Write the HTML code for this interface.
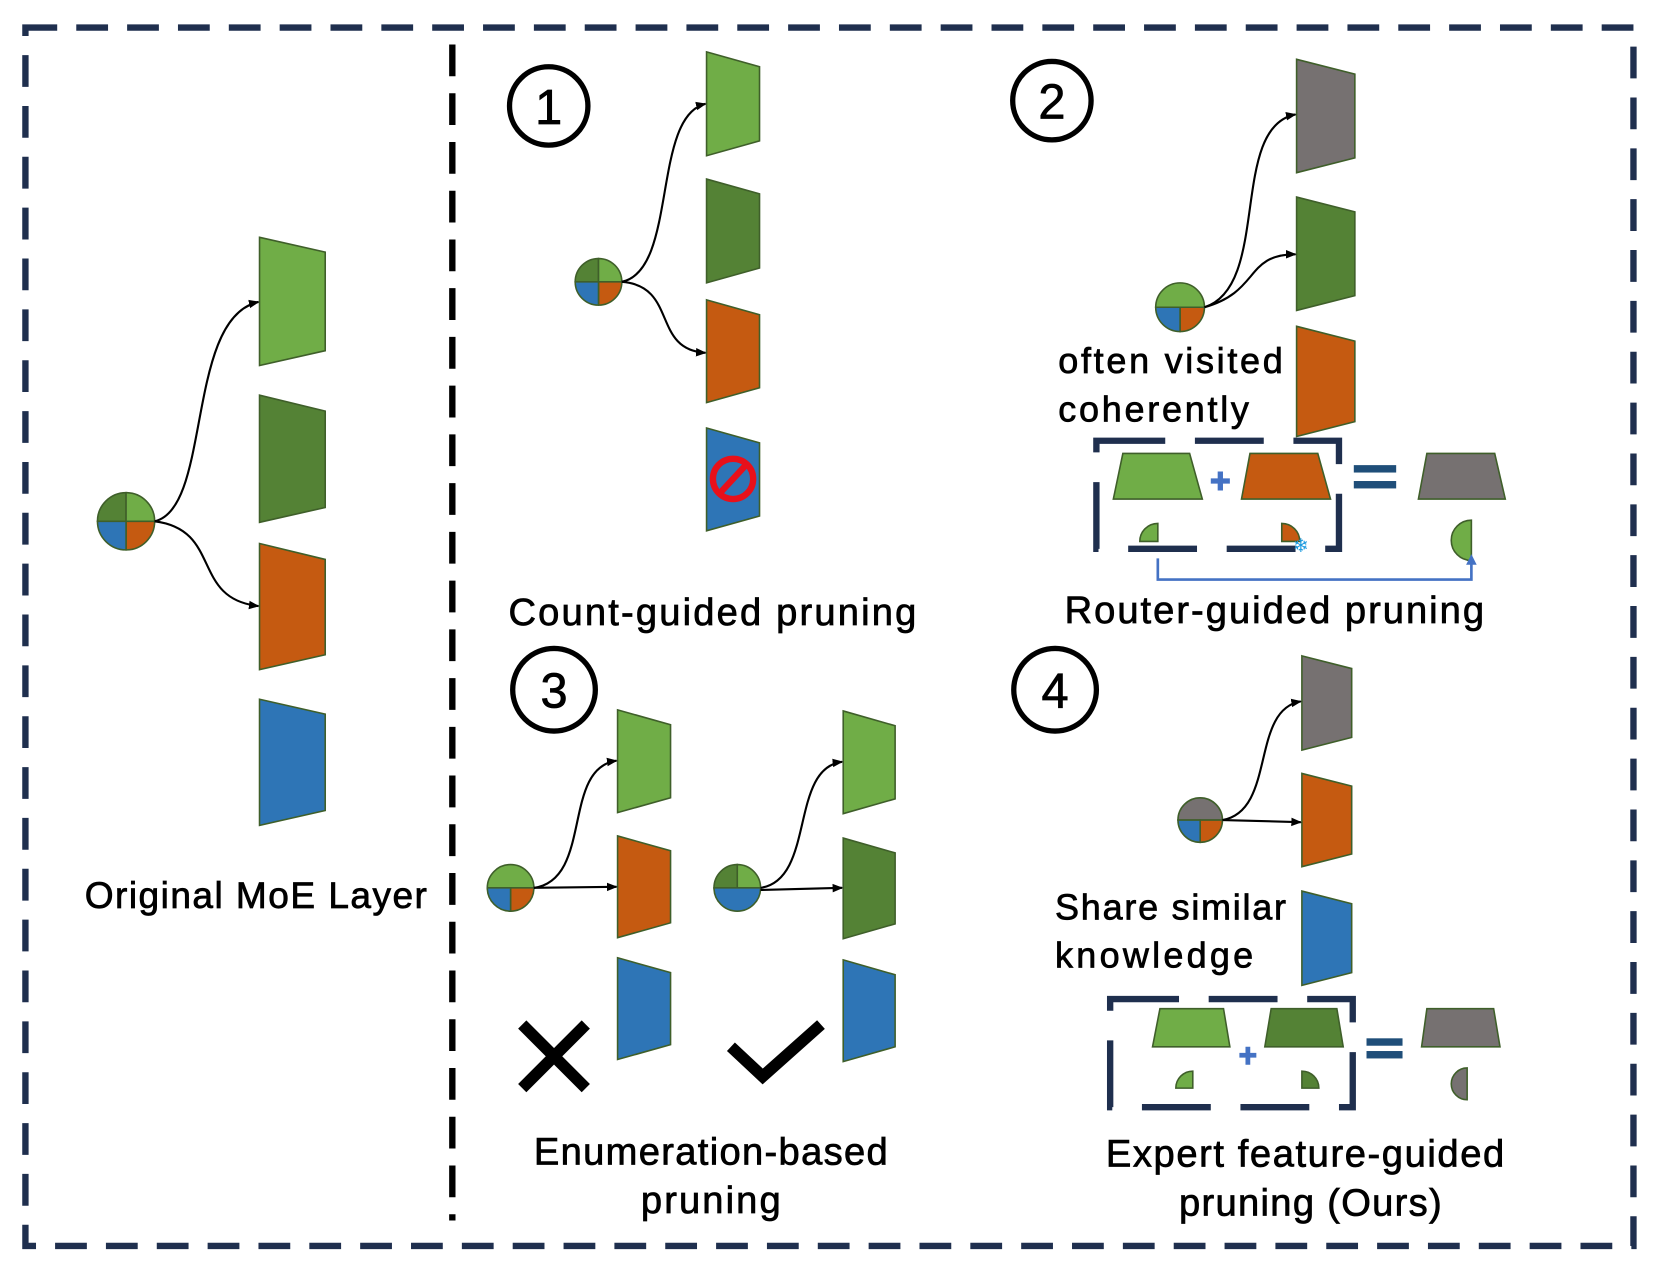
<!DOCTYPE html>
<html><head><meta charset="utf-8"><style>html,body{margin:0;padding:0;background:#fff}svg{display:block}text{stroke:#000;stroke-width:0.7}</style></head>
<body>
<svg width="1661" height="1282" viewBox="0 0 1568 1210" preserveAspectRatio="none" xmlns="http://www.w3.org/2000/svg" font-family="'Liberation Sans', sans-serif">
<defs>
<marker id="ah" markerWidth="10" markerHeight="10" refX="9" refY="5" orient="auto" markerUnits="userSpaceOnUse"><path d="M0,1 L10,5 L0,9 Z" fill="#000"/></marker>
<marker id="bh" markerWidth="12" markerHeight="12" refX="6" refY="10" orient="0" markerUnits="userSpaceOnUse"><path d="M1,11 L6,1 L11,11 Z" fill="#4472c4"/></marker>
</defs>
<g stroke-linejoin="miter">
<rect x="24" y="26" width="1518" height="1150" fill="none" stroke="#1f2f4e" stroke-width="6" stroke-dasharray="30 18"/>
<line x1="427" y1="42" x2="427" y2="1152" stroke="#000" stroke-width="6" stroke-dasharray="30 16"/>
</g>

<!-- Original MoE -->
<g stroke="#3f5f2a" stroke-width="1.5">
<polygon points="245,224 307,238 307,331 245,345" fill="#70ad47"/>
<polygon points="245,373 307,388 307,479 245,493" fill="#548235"/>
<polygon points="245,513 307,528 307,618 245,632" fill="#c55a11"/>
<polygon points="245,660 307,674 307,765 245,779" fill="#2e75b6"/>
</g>
<g stroke="#3f5f2a" stroke-width="1.5">
<path d="M119,492 L92,492 A27,27 0 0 1 119,465 Z" fill="#548235"/>
<path d="M119,492 L119,465 A27,27 0 0 1 146,492 Z" fill="#70ad47"/>
<path d="M119,492 L146,492 A27,27 0 0 1 119,519 Z" fill="#c55a11"/>
<path d="M119,492 L119,519 A27,27 0 0 1 92,492 Z" fill="#2e75b6"/>
</g>
<g fill="none" stroke="#000" stroke-width="2">
<path d="M146,492 C200,480 175,300 244,285" marker-end="url(#ah)"/>
<path d="M146,492 C210,500 180,565 244,572" marker-end="url(#ah)"/>
</g>
<text x="80" y="857" font-size="35" textLength="323" fill="#000">Original MoE Layer</text>

<!-- Panel 1 -->
<circle cx="518" cy="100" r="37" fill="none" stroke="#000" stroke-width="5"/>
<text x="518" y="117" font-size="46" text-anchor="middle" fill="#000">1</text>
<g stroke="#3f5f2a" stroke-width="1.5">
<polygon points="667,49 717,63 717,133 667,147" fill="#70ad47"/>
<polygon points="667,169 717,183 717,253 667,267" fill="#548235"/>
<polygon points="667,283 717,297 717,366 667,380" fill="#c55a11"/>
<polygon points="667,404 717,418 717,487 667,501" fill="#2e75b6"/>
</g>
<circle cx="692" cy="452" r="19" fill="none" stroke="#e8101a" stroke-width="6"/>
<line x1="679" y1="466" x2="705" y2="438" stroke="#e8101a" stroke-width="6"/>
<g stroke="#3f5f2a" stroke-width="1.5">
<path d="M565,266 L543,266 A22,22 0 0 1 565,244 Z" fill="#548235"/>
<path d="M565,266 L565,244 A22,22 0 0 1 587,266 Z" fill="#70ad47"/>
<path d="M565,266 L587,266 A22,22 0 0 1 565,288 Z" fill="#c55a11"/>
<path d="M565,266 L565,288 A22,22 0 0 1 543,266 Z" fill="#2e75b6"/>
</g>
<g fill="none" stroke="#000" stroke-width="2">
<path d="M587,266 C640,255 615,110 666,98" marker-end="url(#ah)"/>
<path d="M587,266 C640,270 615,330 666,333" marker-end="url(#ah)"/>
</g>
<text x="480" y="590" font-size="36" textLength="385" fill="#000">Count-guided pruning</text>

<!-- Panel 2 -->
<circle cx="993" cy="95" r="37" fill="none" stroke="#000" stroke-width="5"/>
<text x="993" y="112" font-size="46" text-anchor="middle" fill="#000">2</text>
<rect x="1035" y="416" width="229" height="102" fill="none" stroke="#1f2f4e" stroke-width="6" stroke-dasharray="65 28"/>
<g stroke="#3f5f2a" stroke-width="1.5">
<polygon points="1224,56 1279,70 1279,149 1224,163" fill="#767171"/>
<polygon points="1224,186 1279,200 1279,279 1224,293" fill="#548235"/>
<polygon points="1224,308 1279,322 1279,398 1224,412" fill="#c55a11"/>
</g>
<g stroke="#3f5f2a" stroke-width="1.5">
<path d="M1114,290 L1091,290 A23,23 0 0 1 1137,290 Z" fill="#70ad47"/>
<path d="M1114,290 L1137,290 A23,23 0 0 1 1114,313 Z" fill="#c55a11"/>
<path d="M1114,290 L1114,313 A23,23 0 0 1 1091,290 Z" fill="#2e75b6"/>
</g>
<g fill="none" stroke="#000" stroke-width="2">
<path d="M1137,290 C1200,270 1160,120 1223,108" marker-end="url(#ah)"/>
<path d="M1137,290 C1190,275 1175,240 1223,240" marker-end="url(#ah)"/>
</g>
<text x="999" y="352" font-size="34" textLength="212" fill="#000">often visited</text>
<text x="999" y="398" font-size="34" textLength="180" fill="#000">coherently</text>
<g stroke="#3f5f2a" stroke-width="1.5">
<polygon points="1060,428 1123,428 1135,471 1051,471" fill="#70ad47"/>
<polygon points="1180,428 1244,428 1256,471 1172,471" fill="#c55a11"/>
<polygon points="1347,428 1411,428 1421,471 1339,471" fill="#767171"/>
<path d="M1093,511 L1076,511 A17,17 0 0 1 1093,494 Z" fill="#70ad47"/>
<path d="M1210,511 L1210,494 A17,17 0 0 1 1227,511 Z" fill="#c55a11"/>
<path d="M1389,491 L1389,529 A19,19 0 0 1 1389,491 Z" fill="#70ad47"/>
</g>
<text x="1228" y="521" font-size="18" text-anchor="middle" fill="#1e9be0" style="stroke:none">❄</text>
<g stroke="#4472c4" stroke-width="5" fill="none"><path d="M1143,454 h18 M1152,445 v18"/></g>
<rect x="1278" y="439" width="40" height="7" fill="#1f4e79"/>
<rect x="1278" y="454" width="40" height="7" fill="#1f4e79"/>
<path d="M1093,527 V547 H1389 V532" fill="none" stroke="#4472c4" stroke-width="2.5" marker-end="url(#bh)"/>
<text x="1005" y="588" font-size="36" textLength="396" fill="#000">Router-guided pruning</text>

<!-- Panel 3 -->
<circle cx="523" cy="651" r="39" fill="none" stroke="#000" stroke-width="5"/>
<text x="523" y="668" font-size="46" text-anchor="middle" fill="#000">3</text>
<g stroke="#3f5f2a" stroke-width="1.5">
<polygon points="583,670 633,684 633,753 583,767" fill="#70ad47"/>
<polygon points="583,789 633,803 633,871 583,885" fill="#c55a11"/>
<polygon points="583,904 633,918 633,986 583,1000" fill="#2e75b6"/>
<polygon points="796,671 845,685 845,754 796,768" fill="#70ad47"/>
<polygon points="796,791 845,805 845,872 796,886" fill="#548235"/>
<polygon points="796,906 845,920 845,988 796,1002" fill="#2e75b6"/>
</g>
<g stroke="#3f5f2a" stroke-width="1.5">
<path d="M460,838 A22,22 0 0 1 504,838 Z" fill="#70ad47"/>
<path d="M482,838 L504,838 A22,22 0 0 1 482,860 Z" fill="#c55a11"/>
<path d="M482,838 L482,860 A22,22 0 0 1 460,838 Z" fill="#2e75b6"/>
<path d="M696,838 L674,838 A22,22 0 0 1 696,816 Z" fill="#548235"/>
<path d="M696,838 L696,816 A22,22 0 0 1 718,838 Z" fill="#70ad47"/>
<path d="M674,838 A22,22 0 0 0 718,838 Z" fill="#2e75b6"/>
</g>
<g fill="none" stroke="#000" stroke-width="2">
<path d="M504,838 C560,830 530,725 582,718" marker-end="url(#ah)"/>
<path d="M504,838 L582,837" marker-end="url(#ah)"/>
<path d="M718,838 C770,830 745,725 795,719" marker-end="url(#ah)"/>
<path d="M718,840 L795,838" marker-end="url(#ah)"/>
</g>
<g stroke="#000" stroke-width="11"><line x1="493" y1="967" x2="553" y2="1027"/><line x1="553" y1="967" x2="493" y2="1027"/></g>
<path d="M690,988 L720,1016 L775,967" fill="none" stroke="#000" stroke-width="11"/>
<text x="671" y="1099" font-size="36" text-anchor="middle" textLength="334" fill="#000">Enumeration-based</text>
<text x="671" y="1145" font-size="36" text-anchor="middle" textLength="132" fill="#000">pruning</text>

<!-- Panel 4 -->
<circle cx="996" cy="651" r="39" fill="none" stroke="#000" stroke-width="5"/>
<text x="996" y="668" font-size="46" text-anchor="middle" fill="#000">4</text>
<g stroke="#3f5f2a" stroke-width="1.5">
<polygon points="1229,619 1276,631 1276,696 1229,708" fill="#767171"/>
<polygon points="1229,730 1276,742 1276,806 1229,818" fill="#c55a11"/>
<polygon points="1229,841 1276,853 1276,918 1229,930" fill="#2e75b6"/>
</g>
<g stroke="#3f5f2a" stroke-width="1.5">
<path d="M1112,774 A21,21 0 0 1 1154,774 Z" fill="#767171"/>
<path d="M1133,774 L1154,774 A21,21 0 0 1 1133,795 Z" fill="#c55a11"/>
<path d="M1133,774 L1133,795 A21,21 0 0 1 1112,774 Z" fill="#2e75b6"/>
</g>
<g fill="none" stroke="#000" stroke-width="2">
<path d="M1154,774 C1205,765 1180,670 1228,662" marker-end="url(#ah)"/>
<path d="M1154,774 L1228,776" marker-end="url(#ah)"/>
</g>
<text x="996" y="868" font-size="34" textLength="218" fill="#000">Share similar</text>
<text x="996" y="913" font-size="34" textLength="187" fill="#000">knowledge</text>
<rect x="1048" y="943" width="229" height="102" fill="none" stroke="#1f2f4e" stroke-width="6" stroke-dasharray="65 28"/>
<g stroke="#3f5f2a" stroke-width="1.5">
<polygon points="1095,952 1155,952 1161,988 1088,988" fill="#70ad47"/>
<polygon points="1200,952 1262,952 1268,988 1194,988" fill="#548235"/>
<polygon points="1347,952 1410,952 1416,988 1342,988" fill="#767171"/>
<path d="M1126,1027 L1110,1027 A16,16 0 0 1 1126,1011 Z" fill="#70ad47"/>
<path d="M1229,1027 L1229,1011 A16,16 0 0 1 1245,1027 Z" fill="#548235"/>
<path d="M1385,1008 L1385,1038 A15,15 0 0 1 1385,1008 Z" fill="#767171"/>
</g>
<g stroke="#4472c4" stroke-width="4.5" fill="none"><path d="M1170,996 h16 M1178,988 v17"/></g>
<rect x="1290" y="980" width="34" height="7" fill="#1f4e79"/>
<rect x="1290" y="992" width="34" height="7" fill="#1f4e79"/>
<text x="1232" y="1101" font-size="36" text-anchor="middle" textLength="376" fill="#000">Expert feature-guided</text>
<text x="1237" y="1147" font-size="36" text-anchor="middle" textLength="248" fill="#000">pruning (Ours)</text>
</svg>
</body></html>
